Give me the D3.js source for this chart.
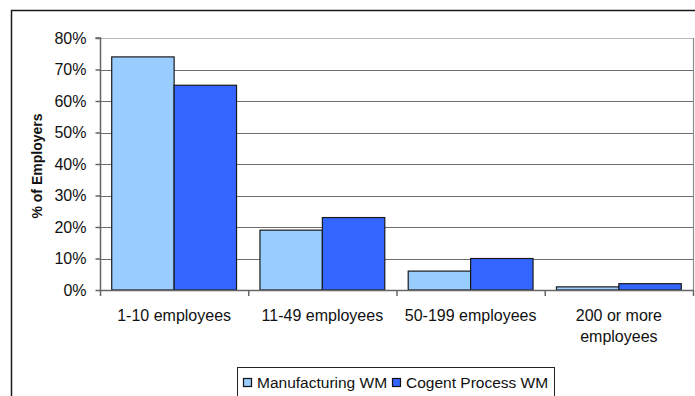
<!DOCTYPE html>
<html>
<head>
<meta charset="utf-8">
<script src="https://cdn.jsdelivr.net/npm/d3@7"></script>
<style>
  html, body { margin: 0; padding: 0; background: #fff; }
  svg { display: block; font-family: "Liberation Sans", Arial, sans-serif; }
</style>
</head>
<body>
<svg id="chart" width="695" height="396"></svg>
<script>
// Firm size bands and share of employers in each
const categories = [["1-10 employees"], ["11-49 employees"], ["50-199 employees"], ["200 or more", "employees"]];
const seriesNames = ["Manufacturing WM", "Cogent Process WM"];
const manufacturing = [0.74, 0.19, 0.06, 0.01];
const cogent = [0.65, 0.23, 0.10, 0.02];
const yTicks = [0, 0.1, 0.2, 0.3, 0.4, 0.5, 0.6, 0.7, 0.8];
const colors = ["#99CCFF", "#3366FF"];

const svg = d3.select("#chart");
const plot = { left: 100, right: 693, top: 38, bottom: 290 };

// Outer chart frame (runs off the right and bottom edges)
svg.append("rect")
  .attr("x", 11.5).attr("y", 10.5)
  .attr("width", 720).attr("height", 420)
  .attr("fill", "none").attr("stroke", "#1a1a1a").attr("stroke-width", 1.5);

const x = d3.scaleBand()
  .domain(d3.range(categories.length))
  .range([plot.left, plot.right])
  .paddingInner(0.158).paddingOuter(0.079);
const xOuter = d3.scaleBand()
  .domain(d3.range(categories.length))
  .range([plot.left, plot.right]);
const xSub = d3.scaleBand().domain([0, 1]).range([0, x.bandwidth()]);
const y = d3.scaleLinear().domain([0, 0.8]).range([plot.bottom, plot.top]);

// Gridlines
svg.append("g").selectAll("line")
  .data(yTicks.filter(t => t > 0 && t < 0.8))
  .join("line")
  .attr("x1", plot.left).attr("x2", plot.right)
  .attr("y1", d => Math.round(y(d)) + 0.5).attr("y2", d => Math.round(y(d)) + 0.5)
  .attr("stroke", "#6e6e6e").attr("stroke-width", 1);

// Plot area border (top and right)
svg.append("line")
  .attr("x1", plot.left).attr("x2", plot.right)
  .attr("y1", plot.top + 0.5).attr("y2", plot.top + 0.5)
  .attr("stroke", "#b8b8b8").attr("stroke-width", 1.2);
svg.append("line")
  .attr("x1", plot.right + 0.5).attr("x2", plot.right + 0.5)
  .attr("y1", plot.top).attr("y2", plot.bottom)
  .attr("stroke", "#8a8a8a").attr("stroke-width", 1.2);

// Bars
const series = [manufacturing, cogent];
series.forEach((vals, s) => {
  svg.append("g").selectAll("rect")
    .data(vals)
    .join("rect")
    .attr("x", (d, i) => x(i) + xSub(s))
    .attr("y", d => y(d))
    .attr("width", xSub.bandwidth())
    .attr("height", d => plot.bottom - y(d))
    .attr("fill", colors[s])
    .attr("stroke", "#1a1a1a").attr("stroke-width", 1.2);
});

// Y axis
const yAxis = svg.append("g")
  .attr("transform", `translate(${plot.left + 0.5},0)`)
  .call(d3.axisLeft(y).tickValues(yTicks).tickFormat(d3.format(".0%")).tickSize(5).tickPadding(9));
yAxis.select(".domain").attr("stroke", "#666").attr("stroke-width", 1.5).attr("d", `M-5,${plot.top}H0V${plot.bottom}`);
yAxis.selectAll(".tick line").attr("stroke", "#666").attr("stroke-width", 1.5);
yAxis.selectAll("text").attr("font-size", 16).attr("fill", "#111")
  .attr("font-family", "Liberation Sans, Arial, sans-serif");

// X axis baseline and category ticks
svg.append("line")
  .attr("x1", plot.left).attr("x2", plot.right + 1)
  .attr("y1", plot.bottom + 0.5).attr("y2", plot.bottom + 0.5)
  .attr("stroke", "#666").attr("stroke-width", 1.5);
svg.append("g").selectAll("line")
  .data(d3.range(categories.length + 1))
  .join("line")
  .attr("x1", i => (i < categories.length ? xOuter(i) : plot.right) + 0.5)
  .attr("x2", i => (i < categories.length ? xOuter(i) : plot.right) + 0.5)
  .attr("y1", plot.bottom).attr("y2", plot.bottom + 6)
  .attr("stroke", "#666").attr("stroke-width", 1.5);

// Category labels
const catLabels = svg.append("g").selectAll("text")
  .data(categories)
  .join("text")
  .attr("x", (d, i) => xOuter(i) + xOuter.bandwidth() / 2)
  .attr("y", 321)
  .attr("text-anchor", "middle")
  .attr("font-size", 16).attr("fill", "#111");
catLabels.selectAll("tspan")
  .data(d => d)
  .join("tspan")
  .attr("x", function () { return d3.select(this.parentNode).attr("x"); })
  .attr("dy", (d, i) => i === 0 ? 0 : 21)
  .text(d => d);

// Y axis title
svg.append("text")
  .attr("transform", "translate(42,166) rotate(-90)")
  .attr("text-anchor", "middle")
  .attr("font-size", 14).attr("font-weight", "bold").attr("fill", "#111")
  .text("% of Employers");

// Legend
const legend = svg.append("g");
legend.append("rect")
  .attr("x", 237.5).attr("y", 367.5).attr("width", 317).attr("height", 40)
  .attr("fill", "#fff").attr("stroke", "#222").attr("stroke-width", 1);
const legendX = [243, 392];
seriesNames.forEach((name, s) => {
  legend.append("rect")
    .attr("x", legendX[s] + 0.5).attr("y", 378.5).attr("width", 8).attr("height", 8)
    .attr("fill", colors[s]).attr("stroke", "#111").attr("stroke-width", 1.2);
  legend.append("text")
    .attr("x", legendX[s] + 14).attr("y", 387.5)
    .attr("font-size", 15.5).attr("fill", "#111")
    .text(name);
});
</script>
</body>
</html>
